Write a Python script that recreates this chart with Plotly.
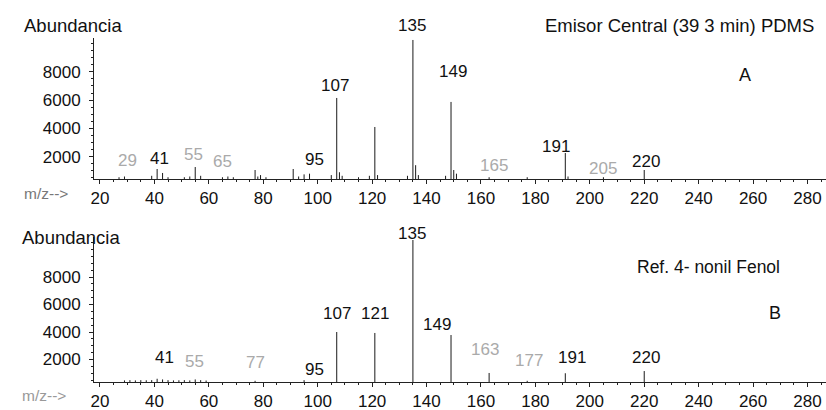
import plotly.graph_objects as go

# ---------------- data ----------------
# Panel A: Emisor Central (39.3 min) PDMS
mz_a = [27, 29, 39, 41, 43, 45, 51, 53, 55, 57, 65, 67, 69, 77, 78, 79, 81, 91, 93, 95, 97,
        105, 107, 108, 109, 115, 119, 121, 122, 133, 135, 136, 137, 147, 149, 150, 151,
        163, 177, 191, 192, 205, 220]
ab_a = [550, 600, 650, 1130, 850, 550, 550, 600, 1270, 650, 550, 600, 550, 1060, 600, 700, 550,
        1130, 600, 750, 800, 700, 6150, 900, 650, 550, 650, 4100, 700, 650, 10250, 1400, 700,
        650, 5870, 1060, 800, 550, 550, 2260, 600, 550, 1060]

# Panel B: Ref. 4-nonil Fenol
mz_b = [29, 31, 33, 35, 37, 39, 41, 43, 45, 47, 49, 51, 53, 55, 57, 59, 77, 95,
        107, 121, 135, 149, 163, 177, 191, 220]
ab_b = [480, 500, 480, 500, 490, 500, 600, 550, 500, 480, 490, 500, 480, 550, 500, 470, 450, 500,
        4000, 3930, 10690, 3780, 1020, 450, 1000, 1160]

# peak labels (text) ; faded labels flagged
labels_a = ["29", "41", "55", "65", "95", "107", "135", "149", "165", "191", "205", "220"]
faded_a = ["29", "55", "65", "165", "205"]
labels_b = ["41", "55", "77", "95", "107", "121", "135", "149", "163", "177", "191", "220"]
faded_b = ["55", "77", "163", "177"]

y_ticks = [2000, 4000, 6000, 8000]
x_ticks = list(range(20, 281, 20))

# ---------------- layout constants ----------------
W, H = 826, 410
X0 = 94  # left edge of plotting area (px)
FONT = "Liberation Sans, Arial, sans-serif"
XR = [17.8, 286.8]
YR_A, DOM_A = [424, 10389], (179, 38)    # range, (bottom px, top px)
YR_B, DOM_B = [364, 10909], (382, 237)

# label positions: (m/z centre, height) in data units
pos_a = {"29": (30, 1700), "41": (42, 1840), "55": (54.5, 2150), "65": (65, 1630),
         "95": (99, 1770), "107": (106.3, 7000), "135": (134.6, 11300), "149": (149.7, 7990),
         "165": (164.8, 1410), "191": (187.7, 2690), "205": (205, 1200), "220": (220.7, 1630)}
pos_b = {"41": (43.8, 2110), "55": (54.8, 1820), "77": (77.3, 1750), "95": (99, 1240),
         "107": (107, 5380), "121": (121, 5380), "135": (134.6, 11130), "149": (144, 4510),
         "163": (161.5, 2760), "177": (177.7, 1960), "191": (193.5, 2180), "220": (220.7, 2180)}


def stems(mz, ab):
    xs, ys = [], []
    for m, a in zip(mz, ab):
        xs += [m, m, None]
        ys += [0, a, None]
    return xs, ys


fig = go.Figure()
xa, ya = stems(mz_a, ab_a)
xb, yb = stems(mz_b, ab_b)
fig.add_trace(go.Scatter(x=xa, y=ya, mode="lines", line=dict(color="#1a1a1a", width=1),
                         xaxis="x", yaxis="y", hoverinfo="skip", showlegend=False))
fig.add_trace(go.Scatter(x=xb, y=yb, mode="lines", line=dict(color="#1a1a1a", width=1),
                         xaxis="x2", yaxis="y2", hoverinfo="skip", showlegend=False))


def py(px):
    return (H - px) / H


def pxx(px):
    return px / W


axis_common = dict(showgrid=False, zeroline=False, showline=True, linecolor="#222",
                   linewidth=1, ticks="outside", tickcolor="#222", ticklen=4, tickwidth=1,
                   tickfont=dict(family=FONT, size=17, color="#111"), automargin=False)

xminor = dict(dtick=5, tick0=0, ticks="outside", ticklen=2, tickcolor="#222")
yminor = dict(dtick=500, tick0=0, ticks="outside", ticklen=2, tickcolor="#222")

fig.update_layout(
    width=W, height=H, margin=dict(l=0, r=0, t=0, b=0),
    paper_bgcolor="white", plot_bgcolor="white",
    xaxis=dict(domain=[pxx(X0), 1], range=XR, anchor="y", tickvals=x_ticks,
               minor=xminor, **axis_common),
    yaxis=dict(domain=[py(DOM_A[0]), py(DOM_A[1])], range=YR_A, anchor="x", tickvals=y_ticks,
               minor=yminor, ticklabelstandoff=5, **axis_common),
    xaxis2=dict(domain=[pxx(X0), 1], range=XR, anchor="y2", tickvals=x_ticks,
                minor=xminor, **axis_common),
    yaxis2=dict(domain=[py(DOM_B[0]), py(DOM_B[1])], range=YR_B, anchor="x2", tickvals=y_ticks,
                minor=yminor, ticklabelstandoff=5, **axis_common),
)

ann = []


def add_labels(labels, faded, pos, xref, yref, yr, dom):
    pxper = (dom[0] - dom[1]) / (yr[1] - yr[0])
    for lab in labels:
        x, y = pos[lab]
        shift = 0
        if y > yr[1]:
            shift = (y - yr[1]) * pxper
            y = yr[1]
        ann.append(dict(x=x, y=y, xref=xref, yref=yref, text=lab, showarrow=False,
                        yshift=shift,
                        font=dict(family=FONT, size=17,
                                  color="#aaaaaa" if lab in faded else "#111"),
                        xanchor="center", yanchor="middle"))


add_labels(labels_a, faded_a, pos_a, "x", "y", YR_A, DOM_A)
add_labels(labels_b, faded_b, pos_b, "x2", "y2", YR_B, DOM_B)

texts = [
    ("Abundancia", 22, 26, "left", "#111", 18.5),
    ("Emisor Central (39 3 min) PDMS", 679, 26, "center", "#111", 18.5),
    ("A", 745, 75, "center", "#111", 18),
    ("m/z-->", 22, 193, "left", "#777", 15.5),
    ("Abundancia", 20, 237, "left", "#111", 18.5),
    ("Ref. 4- nonil Fenol", 708, 267, "center", "#111", 17.5),
    ("B", 775, 313, "center", "#111", 18),
    ("m/z-->", 20, 395, "left", "#999", 15.5),
]
for t, x, y, xa_, c, s in texts:
    ann.append(dict(x=pxx(x), y=py(y), xref="paper", yref="paper", text=t, showarrow=False,
                    xanchor=xa_, yanchor="middle",
                    font=dict(family=FONT, size=s, color=c)))

fig.update_layout(annotations=ann)
fig.write_html("out.html", config={"displayModeBar": False},
               post_script="document.body.style.margin='0';document.body.style.padding='0';"
                           "document.body.style.overflow='hidden';")
